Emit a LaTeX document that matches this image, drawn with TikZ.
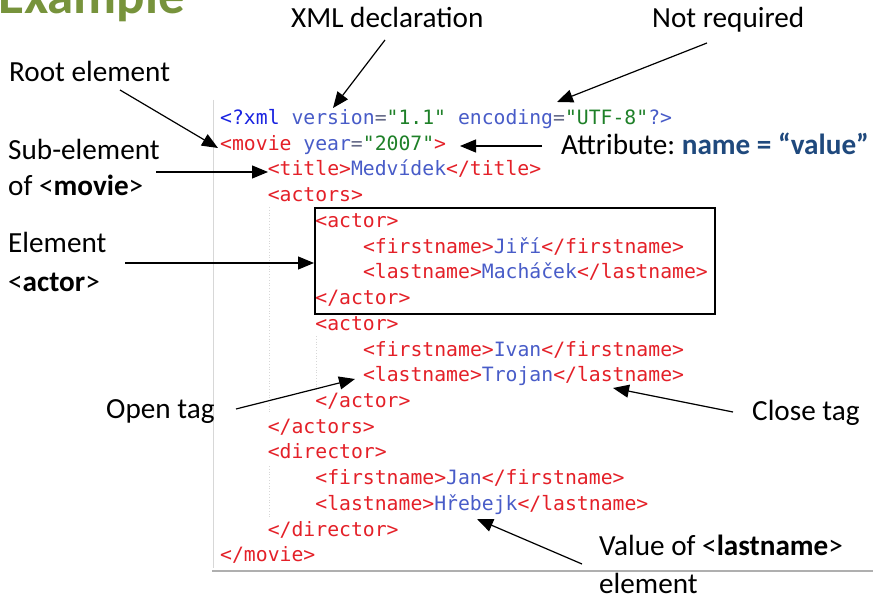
\documentclass[tikz,border=0pt]{standalone}
\usepackage{fontspec}
\setmainfont{Carlito}
\setmonofont{DejaVu Sans Mono}
\usetikzlibrary{arrows.meta}
\frenchspacing
\definecolor{tagred}{RGB}{228,32,40}
\definecolor{txtblue}{RGB}{72,92,200}
\definecolor{declblue}{RGB}{25,35,225}
\definecolor{valgreen}{RGB}{30,128,40}
\definecolor{eqgray}{RGB}{100,105,135}
\definecolor{attrlbl}{RGB}{31,73,125}
\definecolor{titlegreen}{RGB}{119,147,60}
\definecolor{guidegray}{RGB}{215,215,215}
\definecolor{rulegray}{RGB}{175,175,175}
\newcommand{\Tg}[1]{\textcolor{tagred}{#1}}
\newcommand{\Tx}[1]{\textcolor{txtblue}{#1}}
\newcommand{\Av}[1]{\textcolor{valgreen}{#1}}
\newcommand{\Eq}{\textcolor{eqgray}{=}}
\tikzset{
  codeline/.style={anchor=base west, inner sep=0pt, font=\ttfamily\fontsize{19.75}{24}\selectfont},
  lbl/.style={anchor=base west, inner sep=0pt, font=\fontsize{29.2}{34}\selectfont},
  arr/.style={-{Triangle[length=16pt,width=13pt]}, line width=1.2pt},
  guide/.style={guidegray, line width=0.8pt, dotted}
}
\begin{document}
\begin{tikzpicture}[x=1pt,y=-1pt]
\useasboundingbox (0,0) rectangle (873,596);
\fill[white] (0,0) rectangle (873,596);

% title
\node[anchor=base west, inner sep=0pt, font=\bfseries\fontsize{53}{60}\selectfont, text=titlegreen] (title) at (-2,14) {Example};

% panel lines
\draw[guidegray, line width=1pt] (213,100) coordinate (pl1) -- (213,568) coordinate (pl2);
\draw[rulegray, line width=1.2pt] (212,571) coordinate (hr1) -- (873,571) coordinate (hr2);
\draw[guide] (269,207) coordinate (g1a) -- (269,414) coordinate (g1b);
\draw[guide] (316,336) coordinate (g2a) -- (316,390) coordinate (g2b);
\draw[guide] (269,466) coordinate (g3a) -- (269,518) coordinate (g3b);

% code
\node[codeline] (c0) at ({220+47.6*0},{124.5+25.73*0}) {\textcolor{declblue}{<?xml} \Tx{version}\Eq\Av{"1.1"} \Tx{encoding}\Eq\Av{"UTF-8"}\Tx{?>}};
\node[codeline] (c1) at ({220+47.6*0},{124.5+25.73*1}) {\Tg{<movie} \Tx{year}\Eq\Av{"2007"}\Tg{>}};
\node[codeline] (c2) at ({220+47.6*1},{124.5+25.73*2}) {\Tg{<title>}\Tx{Medvídek}\Tg{</title>}};
\node[codeline] (c3) at ({220+47.6*1},{124.5+25.73*3}) {\Tg{<actors>}};
\node[codeline] (c4) at ({220+47.6*2},{124.5+25.73*4}) {\Tg{<actor>}};
\node[codeline] (c5) at ({220+47.6*3},{124.5+25.73*5}) {\Tg{<firstname>}\Tx{Jiří}\Tg{</firstname>}};
\node[codeline] (c6) at ({220+47.6*3},{124.5+25.73*6}) {\Tg{<lastname>}\Tx{Macháček}\Tg{</lastname>}};
\node[codeline] (c7) at ({220+47.6*2},{124.5+25.73*7}) {\Tg{</actor>}};
\node[codeline] (c8) at ({220+47.6*2},{124.5+25.73*8}) {\Tg{<actor>}};
\node[codeline] (c9) at ({220+47.6*3},{124.5+25.73*9}) {\Tg{<firstname>}\Tx{Ivan}\Tg{</firstname>}};
\node[codeline] (c10) at ({220+47.6*3},{124.5+25.73*10}) {\Tg{<lastname>}\Tx{Trojan}\Tg{</lastname>}};
\node[codeline] (c11) at ({220+47.6*2},{124.5+25.73*11}) {\Tg{</actor>}};
\node[codeline] (c12) at ({220+47.6*1},{124.5+25.73*12}) {\Tg{</actors>}};
\node[codeline] (c13) at ({220+47.6*1},{124.5+25.73*13}) {\Tg{<director>}};
\node[codeline] (c14) at ({220+47.6*2},{124.5+25.73*14}) {\Tg{<firstname>}\Tx{Jan}\Tg{</firstname>}};
\node[codeline] (c15) at ({220+47.6*2},{124.5+25.73*15}) {\Tg{<lastname>}\Tx{Hřebejk}\Tg{</lastname>}};
\node[codeline] (c16) at ({220+47.6*1},{124.5+25.73*16}) {\Tg{</director>}};
\node[codeline] (c17) at ({220+47.6*0},{124.5+25.73*17}) {\Tg{</movie>}};

% box around first actor
\node[draw, line width=2.2pt, inner sep=0pt, anchor=north west, minimum width=400pt, minimum height=106pt] (box) at (314,207) {};

% labels
\node[lbl] (lxml) at (291,28) {XML declaration};
\node[lbl] (lnot) at (652,28) {Not required};
\node[lbl] (lroot) at (9,82) {Root element};
\node[lbl] (lsub1) at (8,160) {Sub-element};
\node[lbl] (lsub2) at (8,196) {of <\textbf{movie}>};
\node[lbl] (lattr) at (561,155) {Attribute: \textcolor{attrlbl}{\textbf{name = “value”}}};
\node[lbl] (lel1) at (8,253) {Element};
\node[lbl] (lel2) at (8,291) {<\textbf{actor}>};
\node[lbl] (lopen) at (106,418) {Open tag};
\node[lbl] (lclose) at (752,420) {Close tag};
\node[lbl] (lval1) at (599,555) {Value of <\textbf{lastname}>};
\node[lbl] (lval2) at (599,593) {element};

% arrows
\coordinate (s1) at (385,40);  \coordinate (t1) at (333,108);
\coordinate (s2) at (707,43);  \coordinate (t2) at (557,102);
\coordinate (s3) at (120,90);  \coordinate (t3) at (218,148);
\coordinate (s4) at (156,172); \coordinate (t4) at (268,172);
\coordinate (s5) at (542,146); \coordinate (t5) at (460,146);
\coordinate (s6) at (125,263);
\coordinate (s7) at (236,409); \coordinate (t7) at (355,379);
\coordinate (s8) at (733,412); \coordinate (t8) at (613,388);
\coordinate (s9) at (582,564); \coordinate (t9) at (477,519);
\draw[arr] (s1) -- (t1);
\draw[arr] (s2) -- (t2);
\draw[arr] (s3) -- (t3);
\draw[arr] (s4) -- (t4);
\draw[arr] (s5) -- (t5);
\draw[arr] (s6) -- (s6 -| box.west);
\draw[arr] (s7) -- (t7);
\draw[arr] (s8) -- (t8);
\draw[arr] (s9) -- (t9);
\end{tikzpicture}
\end{document}
